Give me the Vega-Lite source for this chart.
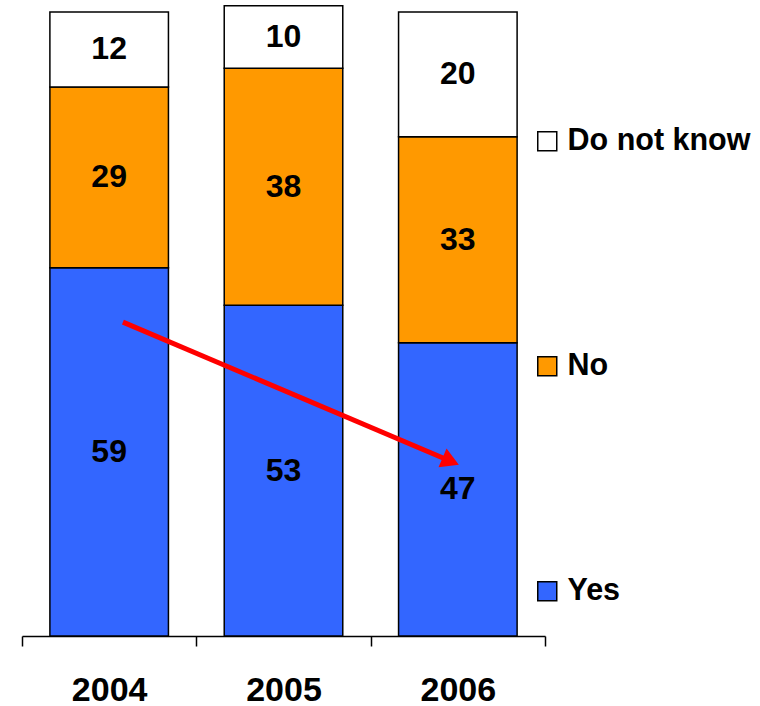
{
  "$schema": "https://vega.github.io/schema/vega-lite/v6.json",
  "autosize": {"type": "none"},
  "width": 523,
  "height": 624,
  "padding": {"left": 22, "top": 12, "right": 215, "bottom": 70},
  "background": "white",
  "config": {
    "view": {"stroke": null},
    "font": "Liberation Sans"
  },
  "datasets": {
    "survey": [
      {"year": "2004", "answer": "Yes", "value": 59},
      {"year": "2004", "answer": "No", "value": 29},
      {"year": "2004", "answer": "Do not know", "value": 12},
      {"year": "2005", "answer": "Yes", "value": 53},
      {"year": "2005", "answer": "No", "value": 38},
      {"year": "2005", "answer": "Do not know", "value": 10},
      {"year": "2006", "answer": "Yes", "value": 47},
      {"year": "2006", "answer": "No", "value": 33},
      {"year": "2006", "answer": "Do not know", "value": 20}
    ],
    "arrow": [
      {"ax": 0.579, "ay": 50.3},
      {"ax": 2.459, "ay": 28.0}
    ],
    "arrowhead": [
      {"ax": 2.459, "ay": 28.0}
    ]
  },
  "layer": [
    {
      "data": {"name": "survey"},
      "encoding": {
        "x": {
          "field": "year", "type": "nominal",
          "scale": {"paddingInner": 0, "paddingOuter": 0},
          "axis": {
            "title": null, "labelAngle": 0, "tickBand": "extent",
            "tickSize": 10, "tickColor": "black", "tickWidth": 1.5,
            "domainColor": "black", "domainWidth": 1.5,
            "labelFont": "Liberation Sans", "labelFontSize": 34, "labelFontWeight": "bold",
            "labelColor": "black", "labelPadding": 27
          }
        },
        "y": {
          "field": "value", "type": "quantitative", "stack": "zero",
          "scale": {"domain": [0, 100], "nice": false},
          "axis": null
        },
        "order": {"field": "answer", "sort": "descending"}
      },
      "layer": [
        {
          "mark": {"type": "bar", "stroke": "black", "strokeWidth": 1.5, "width": {"band": 0.68}},
          "encoding": {
            "color": {
              "field": "answer", "type": "nominal",
              "scale": {"domain": ["Do not know", "No", "Yes"], "range": ["#FFFFFF", "#FF9900", "#3366FF"]},
              "legend": {
                "title": null, "orient": "none", "legendX": 510, "legendY": 114,
                "symbolType": "square", "symbolSize": 361, "symbolStrokeColor": "black",
                "symbolStrokeWidth": 1.5, "symbolOpacity": 1,
                "labelFont": "Liberation Sans", "labelFontSize": 30.5, "labelFontWeight": "bold",
                "labelColor": "black", "labelOffset": 5, "rowPadding": 194, "labelLimit": 300
              }
            }
          }
        },
        {
          "mark": {"type": "text", "font": "Liberation Sans", "fontSize": 32, "fontWeight": "bold", "color": "black", "baseline": "middle"},
          "encoding": {
            "y": {"field": "value", "type": "quantitative", "stack": "zero", "bandPosition": 0.5},
            "text": {"field": "value", "type": "quantitative"},
            "detail": {"field": "answer"}
          }
        }
      ]
    },
    {
      "layer": [
        {
          "data": {"name": "arrow"},
          "mark": {"type": "line", "color": "#FF0000", "strokeWidth": 5, "strokeCap": "butt"},
          "encoding": {
            "x": {"field": "ax", "type": "quantitative", "scale": {"domain": [0, 3], "nice": false, "zero": false}, "axis": null},
            "y": {"field": "ay", "type": "quantitative"}
          }
        },
        {
          "data": {"name": "arrowhead"},
          "mark": {"type": "point", "shape": "triangle-right", "filled": true, "color": "#FF0000", "opacity": 1, "size": 420, "angle": 23},
          "encoding": {
            "x": {"field": "ax", "type": "quantitative", "scale": {"domain": [0, 3], "nice": false, "zero": false}, "axis": null},
            "y": {"field": "ay", "type": "quantitative"}
          }
        }
      ]
    }
  ],
  "resolve": {"scale": {"x": "independent"}, "axis": {"x": "independent"}}
}
